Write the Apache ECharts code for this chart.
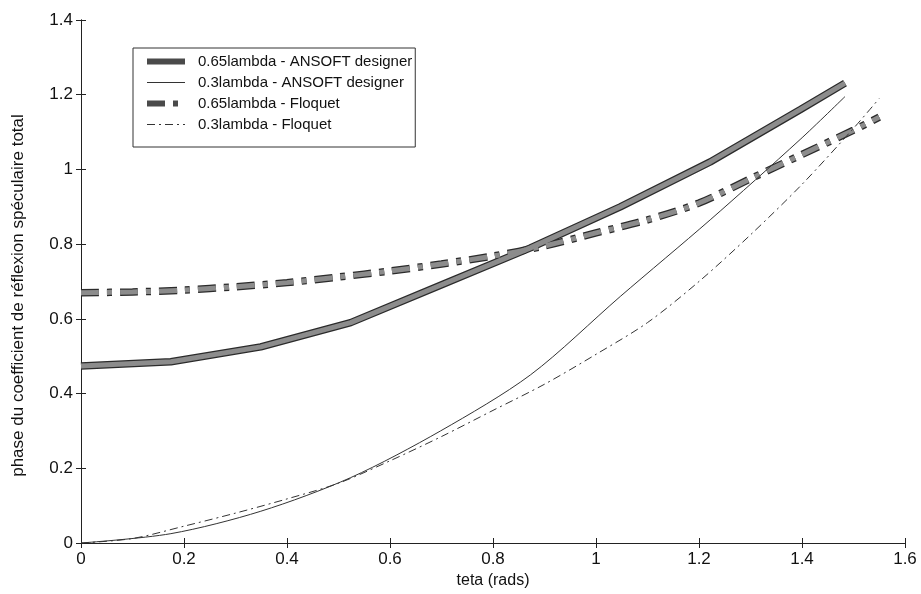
<!DOCTYPE html>
<html>
<head>
<meta charset="utf-8">
<script src="https://cdn.jsdelivr.net/npm/echarts@6/dist/echarts.min.js"></script>
<style>
  html, body { margin: 0; padding: 0; background: #fff; }
  #chart { width: 921px; height: 594px; }
</style>
</head>
<body>
<div id="chart"></div>
<script>
// Incidence angles (rad) of the ANSOFT simulations: 0° to 85° in 10° steps (last step 5°)
const angleAnsoft = [0, 0.1745, 0.3491, 0.5236, 0.6981, 0.8727, 1.0472, 1.2217, 1.3963, 1.4835];
// Incidence angles (rad) of the Floquet computation
const angleFloquet = [0, 0.1, 0.2, 0.3, 0.4, 0.5, 0.6, 0.7, 0.8, 0.9, 1.0, 1.1, 1.2, 1.3, 1.4, 1.5, 1.55];

// Phase of the total specular reflection coefficient
const ansoft065 = [0.474, 0.485, 0.525, 0.590, 0.690, 0.790, 0.900, 1.020, 1.160, 1.231];
const ansoft03  = [0, 0.025, 0.085, 0.175, 0.300, 0.450, 0.660, 0.865, 1.080, 1.195];
const floquet065 = [0.670, 0.672, 0.677, 0.686, 0.697, 0.712, 0.728, 0.747, 0.768, 0.795, 0.830, 0.865, 0.910, 0.975, 1.040, 1.105, 1.140];
const floquet03  = [0, 0.012, 0.045, 0.080, 0.118, 0.160, 0.220, 0.285, 0.355, 0.425, 0.505, 0.590, 0.700, 0.825, 0.960, 1.110, 1.190];

const seriesNames = [
  '0.65lambda - ANSOFT designer',
  '0.3lambda - ANSOFT designer',
  '0.65lambda - Floquet',
  '0.3lambda - Floquet'
];

const xTicks = [0, 0.2, 0.4, 0.6, 0.8, 1, 1.2, 1.4, 1.6];
const yTicks = [0, 0.2, 0.4, 0.6, 0.8, 1, 1.2, 1.4];

const pairs = (xs, ys) => xs.map((x, i) => [x, ys[i]]);

const FONT = 'Liberation Sans, Arial, sans-serif';
const AXIS_COLOR = '#222';
const THICK_EDGE = '#2b2b2b';
const THICK_CORE = '#8c8c8c';
const THIN = '#333';
const DASH_DOT_THICK = [18, 8, 5, 8];
const DASH_DOT_THIN = [8, 4, 2, 4];

const axisCommon = {
  type: 'value',
  splitLine: { show: false },
  axisLine: { show: true, lineStyle: { color: AXIS_COLOR, width: 1 } },
  axisTick: { show: true, inside: true, length: 5, lineStyle: { color: AXIS_COLOR } }
};

const hiddenMarker = { color: 'rgba(0,0,0,0)', borderColor: 'rgba(0,0,0,0)', borderWidth: 0, opacity: 0 };

const chart = echarts.init(document.getElementById('chart'), null, { renderer: 'canvas' });

chart.setOption({
  animation: false,
  backgroundColor: '#fff',
  textStyle: { fontFamily: FONT },
  grid: { left: 81, right: 16, top: 20, bottom: 51, containLabel: false },
  legend: {
    data: [
      { name: seriesNames[0], itemStyle: hiddenMarker, lineStyle: { color: '#4a4a4a', width: 6, type: 'solid' } },
      { name: seriesNames[1], itemStyle: hiddenMarker, lineStyle: { color: THIN, width: 1, type: 'solid' } },
      { name: seriesNames[2], itemStyle: hiddenMarker, lineStyle: { color: '#4a4a4a', width: 6, type: DASH_DOT_THICK } },
      { name: seriesNames[3], itemStyle: hiddenMarker, lineStyle: { color: THIN, width: 1, type: DASH_DOT_THIN } }
    ],
    orient: 'vertical',
    left: 133,
    top: 48,
    itemWidth: 38,
    itemHeight: 14,
    itemGap: 6,
    padding: [6, 3, 15, 11],
    backgroundColor: '#fff',
    borderColor: '#333',
    borderWidth: 1,
    borderRadius: 0,
    textStyle: { fontFamily: FONT, fontSize: 15, color: '#111', padding: [0, 0, 0, 8] }
  },
  xAxis: [
    Object.assign({}, axisCommon, {
      position: 'bottom',
      min: xTicks[0], max: xTicks[xTicks.length - 1], interval: 0.2,
      name: 'teta (rads)',
      nameLocation: 'middle',
      nameGap: 30,
      nameTextStyle: { fontFamily: FONT, fontSize: 16, color: '#111' },
      axisLabel: { show: true, margin: 8, fontFamily: FONT, fontSize: 17, color: '#111' }
    }),
    Object.assign({}, axisCommon, {
      position: 'top',
      min: xTicks[0], max: xTicks[xTicks.length - 1], interval: 0.2,
      axisLabel: { show: false }
    })
  ],
  yAxis: [
    Object.assign({}, axisCommon, {
      position: 'left',
      min: yTicks[0], max: yTicks[yTicks.length - 1], interval: 0.2,
      name: 'phase du coefficient de réflexion spéculaire total',
      nameLocation: 'middle',
      nameGap: 54,
      nameRotate: 90,
      nameTextStyle: { fontFamily: FONT, fontSize: 17, color: '#111', padding: [0, 28, 0, 0] },
      axisLabel: { show: true, margin: 8, fontFamily: FONT, fontSize: 17, color: '#111' }
    }),
    Object.assign({}, axisCommon, {
      position: 'right',
      min: yTicks[0], max: yTicks[yTicks.length - 1], interval: 0.2,
      axisLabel: { show: false }
    })
  ],
  series: [
    {
      name: seriesNames[0], type: 'line', showSymbol: false, symbol: 'none',
      data: pairs(angleAnsoft, ansoft065),
      lineStyle: { color: THICK_EDGE, width: 7.5 }, itemStyle: { color: THICK_EDGE }, z: 3
    },
    {
      name: 'core-a', type: 'line', showSymbol: false, symbol: 'none',
      data: pairs(angleAnsoft, ansoft065),
      lineStyle: { color: THICK_CORE, width: 5 }, z: 4, silent: true
    },
    {
      name: seriesNames[1], type: 'line', showSymbol: false, symbol: 'none', smooth: 0.3,
      data: pairs(angleAnsoft, ansoft03),
      lineStyle: { color: THIN, width: 1 }, itemStyle: { color: THIN }, z: 5
    },
    {
      name: seriesNames[2], type: 'line', showSymbol: false, symbol: 'none', smooth: 0.3,
      data: pairs(angleFloquet, floquet065),
      lineStyle: { color: THICK_EDGE, width: 7.5, type: DASH_DOT_THICK }, itemStyle: { color: THICK_EDGE }, z: 3
    },
    {
      name: 'core-c', type: 'line', showSymbol: false, symbol: 'none', smooth: 0.3,
      data: pairs(angleFloquet, floquet065),
      lineStyle: { color: THICK_CORE, width: 5, type: DASH_DOT_THICK }, z: 4, silent: true
    },
    {
      name: seriesNames[3], type: 'line', showSymbol: false, symbol: 'none', smooth: 0.3,
      data: pairs(angleFloquet, floquet03),
      lineStyle: { color: THIN, width: 1, type: DASH_DOT_THIN }, itemStyle: { color: THIN }, z: 5
    }
  ]
});
</script>
</body>
</html>
